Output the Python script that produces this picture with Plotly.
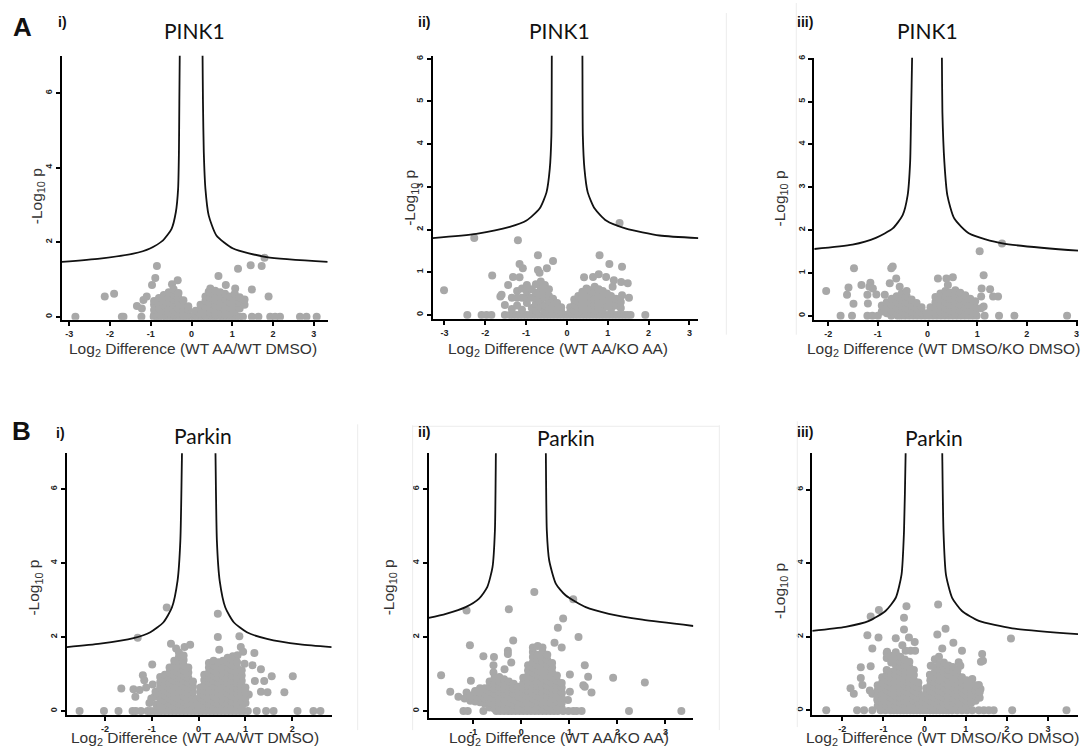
import plotly.graph_objects as go

W, H = 1091, 748
GRAY = "#a8a8a8"

# ---------------- threshold curves ----------------
AI_CURVE_X = [-3.18, -2.25, -1.43, -1.02, -0.70, -0.49, -0.385, -0.33, -0.31, -0.30, -0.29, -0.285, None,
              0.265, 0.27, 0.28, 0.30, 0.34, 0.42, 0.61, 1.02, 1.84, 3.34]
AI_CURVE_Y = [1.47, 1.56, 1.69, 1.83, 2.05, 2.36, 2.81, 3.43, 4.41, 5.75, 7.0, 7.5, None,
              7.5, 7.0, 5.75, 4.41, 3.43, 2.72, 2.18, 1.83, 1.60, 1.47]

AII_CURVE_X = [-3.29, -2.22, -1.40, -0.99, -0.67, -0.50, -0.42, -0.38, -0.37, -0.365, None,
               0.375, 0.38, 0.39, 0.43, 0.51, 0.68, 0.96, 1.45, 2.27, 3.22]
AII_CURVE_Y = [1.80, 1.90, 2.06, 2.21, 2.49, 2.87, 3.42, 4.20, 6.07, 6.6, None,
               6.6, 6.07, 4.20, 3.42, 2.87, 2.49, 2.21, 2.02, 1.86, 1.80]

AIII_CURVE_X = [-2.28, -1.51, -1.04, -0.70, -0.50, -0.40, -0.35, -0.33, -0.31, -0.305, None,
                0.285, 0.29, 0.30, 0.34, 0.40, 0.54, 0.84, 1.51, 3.04]
AIII_CURVE_Y = [1.56, 1.66, 1.82, 2.04, 2.35, 2.81, 3.58, 4.75, 6.02, 6.6, None,
                6.6, 6.02, 4.75, 3.58, 2.81, 2.27, 1.92, 1.69, 1.52]

BI_CURVE_X = [-2.81, -2.10, -1.39, -1.03, -0.75, -0.57, -0.45, -0.39, -0.355, -0.35, None,
              0.355, 0.36, 0.39, 0.45, 0.57, 0.75, 1.03, 1.46, 2.17, 2.84]
BI_CURVE_Y = [1.73, 1.82, 1.97, 2.13, 2.40, 2.80, 3.52, 4.60, 6.97, 7.5, None,
              7.5, 6.97, 4.60, 3.52, 2.80, 2.40, 2.13, 1.95, 1.80, 1.73]

BII_CURVE_X = [-1.93, -1.57, -1.16, -0.88, -0.71, -0.60, -0.55, -0.53, -0.525, None,
               0.505, 0.51, 0.53, 0.58, 0.72, 0.92, 1.34, 1.82, 2.52, 3.58]
BII_CURVE_Y = [2.52, 2.63, 2.81, 3.04, 3.35, 3.89, 4.88, 6.97, 7.5, None,
               7.5, 6.97, 4.88, 4.07, 3.44, 3.13, 2.81, 2.63, 2.47, 2.30]

BIII_CURVE_X = [-2.73, -1.92, -1.35, -0.95, -0.70, -0.56, -0.50, -0.46, -0.455, None,
                0.425, 0.43, 0.46, 0.52, 0.67, 0.91, 1.32, 2.13, 3.73]
BIII_CURVE_Y = [2.16, 2.27, 2.43, 2.70, 3.06, 3.69, 4.86, 6.99, 7.5, None,
                7.5, 6.99, 4.86, 3.69, 3.06, 2.70, 2.43, 2.23, 2.07]

# ---------------- proteins with p = 1 (row at -log10 p = 0) ----------------
AI_ZERO_X = [-2.85, -1.71, -1.67, -1.23, -0.93, -0.86, -0.79, -0.71, -0.63, -0.56, -0.48, -0.41, -0.33,
             -0.26, -0.18, -0.11, -0.03, 0.05, 0.12, 0.20, 0.27, 0.35, 0.42, 0.50, 0.57, 0.65, 0.73,
             0.80, 0.88, 0.95, 1.03, 1.10, 1.18, 1.26, 1.48, 1.64, 1.93, 2.05, 2.17, 2.66, 2.82, 3.07]
AII_ZERO_X = [-2.44, -2.09, -1.97, -1.85, -1.52, -1.40, -1.32, -1.24, -1.16, -1.08, -1.00, -0.92, -0.84,
              -0.76, -0.68, -0.60, -0.52, -0.44, -0.36, -0.28, -0.20, -0.12, -0.04, 0.04, 0.12, 0.20,
              0.28, 0.36, 0.44, 0.52, 0.60, 0.68, 0.76, 0.84, 0.92, 1.00, 1.08, 1.16, 1.24, 1.32,
              1.40, 1.48, 1.56, 1.92]
AIII_ZERO_X = [-1.75, -1.52, -1.21, -1.11, -1.00, -0.73, -0.60, -0.53, -0.45, -0.37, -0.29, -0.21,
               -0.13, -0.05, 0.03, 0.11, 0.19, 0.27, 0.35, 0.43, 0.51, 0.59, 0.67, 0.75, 0.83, 0.91,
               0.99, 1.15, 1.44, 1.75, 2.81]
BI_ZERO_X = [-2.54, -2.02, -1.71, -1.41, -1.34, -1.23, -1.09, -1.02, -0.94, -0.87, -0.80, -0.72, -0.64,
             -0.56, -0.48, -0.40, -0.32, -0.24, -0.16, -0.08, 0.00, 0.08, 0.16, 0.24, 0.32, 0.40, 0.48,
             0.56, 0.64, 0.72, 0.80, 0.88, 0.96, 1.05, 1.24, 1.44, 1.60, 2.11, 2.45, 2.60]
BII_ZERO_X = [-1.205, -1.115, -0.79, -0.52, -0.44, -0.36, -0.28, -0.20, -0.12, -0.04, 0.04, 0.12, 0.20,
              0.28, 0.36, 0.44, 0.52, 0.60, 0.68, 0.76, 0.87, 0.98, 1.08, 1.15, 1.255, 2.24, 3.33]
BIII_ZERO_X = [-2.39, -1.64, -1.47, -1.27, -1.07, -0.95, -0.83, -0.75, -0.67, -0.59, -0.51, -0.43,
               -0.35, -0.27, -0.19, -0.11, -0.03, 0.05, 0.13, 0.21, 0.29, 0.37, 0.45, 0.53, 0.59,
               0.67, 0.79, 0.91, 1.03, 1.16, 1.32, 1.44, 1.56, 1.68, 2.13, 3.45]

# ---------------- isolated proteins (x = log2 difference, y = -log10 p) ----------------
AI_PTS = [(-0.85, 1.36), (-0.89, 1.04), (-0.97, 0.85), (-0.34, 0.98), (-0.48, 0.87), (-2.13, 0.54),
          (-1.90, 0.62), (-1.34, 0.29), (-1.18, 0.45), (-1.10, 0.54), (-1.22, 0.22), (0.66, 1.09),
          (1.14, 1.29), (1.45, 1.38), (1.72, 1.36), (1.79, 1.58), (0.84, 0.85), (1.07, 0.76),
          (1.48, 0.73), (1.89, 0.54), (0.46, 0.76), (0.42, 0.67)]
AII_PTS = [(-3.01, 0.58), (-2.27, 1.80), (-1.20, 1.75), (-0.71, 1.40), (-0.34, 1.26), (-0.49, 1.09),
           (-1.16, 1.19), (-1.08, 1.09), (-0.71, 1.05), (-0.67, 0.99), (-1.83, 0.92), (-1.32, 0.89),
           (-1.16, 0.88), (-1.44, 0.70), (-1.63, 0.43), (-1.60, 0.47), (-1.52, 0.23), (0.80, 1.40),
           (1.04, 1.19), (1.35, 1.13), (0.42, 0.88), (0.64, 0.89), (0.78, 0.95), (0.96, 0.89),
           (1.15, 0.81), (1.33, 0.77), (1.49, 0.74), (1.12, 0.66), (1.35, 0.46), (1.52, 0.40),
           (1.29, 2.15)]
AIII_PTS = [(-2.04, 0.58), (-1.48, 1.11), (-1.59, 0.66), (-1.62, 0.49), (-1.49, 0.28), (-1.33, 0.72),
            (-1.15, 0.77), (-1.17, 0.68), (-1.10, 0.64), (-1.21, 0.49), (-1.20, 0.29), (-1.03, 0.50),
            (-0.70, 1.15), (-0.73, 1.11), (-0.63, 0.87), (-0.76, 0.76), (-0.56, 0.68), (-0.86, 0.49),
            (1.05, 1.51), (1.50, 1.69), (1.13, 0.95), (0.21, 0.87), (0.38, 0.87), (0.51, 0.90),
            (0.41, 0.72), (1.09, 0.64), (1.26, 0.62), (1.32, 0.45), (1.42, 0.45), (1.08, 0.45),
            (1.13, 0.22), (1.08, 0.18)]
BI_PTS = [(-0.68, 2.80), (0.41, 2.63), (-1.30, 1.98), (0.41, 2.00), (0.87, 2.02), (-0.59, 1.82),
          (-0.30, 1.73), (-0.18, 1.79), (-0.48, 1.69), (0.44, 1.66), (0.90, 1.73), (0.95, 1.60),
          (1.19, 1.57), (0.73, 1.48), (0.83, 1.51), (-0.99, 1.26), (-1.65, 0.61), (-1.39, 0.59),
          (-1.19, 0.97), (-1.16, 0.83), (-1.26, 0.57), (-1.12, 0.64), (-1.01, 0.34), (-0.94, 0.39),
          (-1.35, 0.39), (1.15, 1.24), (1.33, 1.13), (1.56, 0.94), (1.40, 0.81), (1.20, 0.81),
          (2.01, 0.94), (1.83, 0.51), (1.07, 0.45), (1.33, 0.52), (1.47, 0.51), (0.98, 1.28),
          (-0.92, 0.52), (-0.98, 0.72), (-1.05, 0.22), (-0.90, 0.18)]
BII_PTS = [(0.27, 3.22), (-1.14, 2.72), (-0.26, 2.75), (1.08, 3.02), (0.87, 2.50), (0.76, 2.25),
           (1.19, 2.00), (-0.17, 1.91), (-1.07, 1.78), (0.69, 1.85), (0.84, 1.72), (-0.28, 1.63),
           (-0.28, 1.54), (-0.79, 1.48), (-0.57, 1.46), (-0.21, 1.31), (-0.58, 1.24), (-0.35, 1.13),
           (1.32, 1.24), (-1.67, 0.97), (-1.05, 0.82), (-0.58, 1.04), (1.91, 0.90), (2.57, 0.77),
           (1.39, 0.93), (1.29, 0.70), (1.32, 0.66), (1.01, 0.99), (1.46, 0.50), (-1.48, 0.52),
           (-1.31, 0.39), (-1.14, 0.50), (-0.96, 0.54), (1.01, 0.52), (0.97, 0.30), (0.84, 0.48)]
BIII_PTS = [(-0.44, 2.83), (0.33, 2.88), (-1.11, 2.73), (-1.31, 2.55), (-0.50, 2.52), (-0.50, 2.20),
            (0.51, 2.22), (-1.39, 2.04), (-1.12, 1.98), (-0.70, 1.96), (-0.38, 1.98), (0.31, 2.06),
            (0.70, 1.84), (2.10, 1.95), (-0.24, 1.86), (-1.27, 1.68), (-0.54, 1.77), (-0.46, 1.62),
            (-0.34, 1.62), (-0.23, 1.62), (-0.91, 1.59), (-0.70, 1.48), (0.43, 1.68), (0.91, 1.62),
            (1.40, 1.53), (1.37, 1.32), (1.42, 1.35), (-1.55, 1.17), (-1.31, 1.20), (-1.55, 0.88),
            (-1.80, 0.60), (-1.72, 0.45), (-1.51, 0.69), (-1.33, 0.54), (-1.27, 0.45), (-1.15, 0.31),
            (0.15, 1.21), (0.13, 0.97), (0.83, 1.31), (0.87, 1.21), (0.35, 1.46), (0.25, 1.39),
            (1.32, 0.69), (1.36, 0.58), (1.16, 0.85)]

# ---------------- dense clouds: columns of (log2 difference, [-log10 p values]) ----------------
AI_CLOUD = [
    (-0.92, [0.05, 0.18, 0.32, 0.42]), (-0.80, [0.08, 0.22, 0.36, 0.50]),
    (-0.68, [0.04, 0.16, 0.30, 0.44, 0.58]), (-0.56, [0.10, 0.24, 0.38, 0.52, 0.66]),
    (-0.44, [0.06, 0.18, 0.32, 0.46, 0.60, 0.74]), (-0.32, [0.08, 0.22, 0.36, 0.50, 0.64]),
    (-0.20, [0.04, 0.16, 0.30, 0.44]), (-0.08, [0.06, 0.18, 0.28]),
    (0.10, [0.05, 0.16]), (0.22, [0.08, 0.20, 0.32]), (0.34, [0.04, 0.16, 0.28, 0.42, 0.54]),
    (0.46, [0.10, 0.22, 0.36, 0.50, 0.64]), (0.58, [0.06, 0.18, 0.30, 0.44, 0.58, 0.70]),
    (0.70, [0.12, 0.26, 0.40, 0.52, 0.66]), (0.82, [0.06, 0.20, 0.34, 0.48, 0.62]),
    (0.94, [0.10, 0.24, 0.38, 0.54]), (1.06, [0.14, 0.30, 0.46, 0.62]),
    (1.18, [0.22, 0.38, 0.52]), (1.30, [0.32, 0.46]),
]
AII_CLOUD = [
    (-1.35, [0.14, 0.40]), (-1.22, [0.22, 0.40, 0.56]), (-1.10, [0.12, 0.40, 0.62]),
    (-0.98, [0.28, 0.40, 0.54, 0.70]), (-0.86, [0.16, 0.40, 0.60]),
    (-0.76, [0.10, 0.26, 0.40, 0.52, 0.72]), (-0.64, [0.18, 0.34, 0.48, 0.64, 0.78]),
    (-0.54, [0.08, 0.22, 0.40, 0.56, 0.70]), (-0.44, [0.14, 0.30, 0.44, 0.60]),
    (-0.34, [0.08, 0.22, 0.38]), (-0.24, [0.12, 0.28]), (-0.14, [0.08, 0.18]),
    (0.08, [0.06, 0.18]), (0.18, [0.10, 0.24, 0.36]), (0.28, [0.06, 0.18, 0.30, 0.44]),
    (0.38, [0.12, 0.26, 0.40, 0.54]), (0.48, [0.08, 0.22, 0.36, 0.50, 0.62]),
    (0.58, [0.14, 0.28, 0.42, 0.58]), (0.68, [0.10, 0.24, 0.38, 0.54, 0.66]),
    (0.78, [0.16, 0.30, 0.46, 0.60]), (0.88, [0.12, 0.26, 0.42, 0.56]),
    (0.98, [0.20, 0.36, 0.50]), (1.08, [0.14, 0.30, 0.44]), (1.20, [0.22, 0.38]),
    (1.32, [0.16, 0.30]),
]
AIII_CLOUD = [
    (-0.92, [0.10, 0.24]), (-0.82, [0.06, 0.18, 0.32]), (-0.72, [0.12, 0.26, 0.40]),
    (-0.62, [0.06, 0.18, 0.32, 0.46]), (-0.52, [0.10, 0.24, 0.38, 0.52]),
    (-0.42, [0.06, 0.18, 0.32, 0.46, 0.58]), (-0.32, [0.10, 0.24, 0.38]),
    (-0.22, [0.06, 0.18, 0.30]), (-0.12, [0.08, 0.20]), (-0.02, [0.06]),
    (0.06, [0.08, 0.20]), (0.16, [0.06, 0.18, 0.32, 0.44]), (0.26, [0.10, 0.24, 0.38, 0.52]),
    (0.36, [0.06, 0.18, 0.32, 0.46, 0.58]), (0.46, [0.12, 0.26, 0.40, 0.54]),
    (0.56, [0.06, 0.18, 0.32, 0.46, 0.60]), (0.66, [0.12, 0.26, 0.40, 0.54]),
    (0.76, [0.06, 0.20, 0.34, 0.48]), (0.86, [0.12, 0.26, 0.40]), (0.96, [0.08, 0.20, 0.34]),
]
BI_CLOUD = [
    (-0.82, [0.08, 0.22, 0.36, 0.50, 0.64, 0.78, 0.92]),
    (-0.72, [0.14, 0.28, 0.42, 0.56, 0.70, 0.84, 0.98]),
    (-0.62, [0.06, 0.20, 0.34, 0.48, 0.62, 0.76, 0.90, 1.04, 1.18]),
    (-0.52, [0.12, 0.26, 0.40, 0.54, 0.68, 0.82, 0.96, 1.10, 1.24, 1.36]),
    (-0.42, [0.06, 0.20, 0.34, 0.48, 0.62, 0.76, 0.90, 1.04, 1.18, 1.32, 1.46, 1.58]),
    (-0.32, [0.12, 0.26, 0.40, 0.54, 0.68, 0.82, 0.96, 1.10, 1.24, 1.38, 1.50]),
    (-0.22, [0.06, 0.20, 0.34, 0.48, 0.62, 0.76, 0.90, 1.04, 1.18]),
    (-0.12, [0.10, 0.24, 0.38, 0.52, 0.66, 0.80]),
    (-0.04, [0.06, 0.18, 0.32]),
    (0.04, [0.08, 0.22, 0.36, 0.50, 0.64]),
    (0.12, [0.14, 0.28, 0.42, 0.56, 0.70, 0.84, 0.98]),
    (0.22, [0.06, 0.20, 0.34, 0.48, 0.62, 0.76, 0.90, 1.04, 1.18, 1.30]),
    (0.32, [0.12, 0.26, 0.40, 0.54, 0.68, 0.82, 0.96, 1.10, 1.24, 1.36]),
    (0.42, [0.06, 0.20, 0.34, 0.48, 0.62, 0.76, 0.90, 1.04, 1.18, 1.32]),
    (0.52, [0.12, 0.26, 0.40, 0.54, 0.68, 0.82, 0.96, 1.10, 1.24, 1.36]),
    (0.62, [0.06, 0.20, 0.34, 0.48, 0.62, 0.76, 0.90, 1.04, 1.18, 1.32, 1.44]),
    (0.72, [0.12, 0.26, 0.40, 0.54, 0.68, 0.82, 0.96, 1.10, 1.24, 1.38]),
    (0.82, [0.06, 0.20, 0.34, 0.48, 0.62, 0.76, 0.90, 1.04, 1.18, 1.32]),
    (0.92, [0.12, 0.26, 0.40, 0.54, 0.68, 0.82, 0.96, 1.10]),
    (1.00, [0.22, 0.36, 0.50, 0.64]),
]
BII_CLOUD = [
    (-1.18, [0.34]), (-1.06, [0.28, 0.42]), (-0.96, [0.26, 0.40, 0.52]),
    (-0.86, [0.24, 0.36, 0.50, 0.62]), (-0.76, [0.20, 0.34, 0.48, 0.62]),
    (-0.66, [0.10, 0.24, 0.38, 0.52, 0.66, 0.80]),
    (-0.56, [0.06, 0.18, 0.32, 0.46, 0.60, 0.74, 0.88]),
    (-0.46, [0.10, 0.24, 0.38, 0.52, 0.66, 0.80, 0.92]),
    (-0.36, [0.06, 0.18, 0.32, 0.46, 0.60, 0.74, 0.86]),
    (-0.26, [0.10, 0.24, 0.38, 0.52, 0.66, 0.80]),
    (-0.16, [0.06, 0.18, 0.32, 0.46, 0.60, 0.74]),
    (-0.06, [0.10, 0.24, 0.38, 0.52, 0.66]),
    (0.04, [0.06, 0.20, 0.34, 0.48, 0.62, 0.76, 0.90]),
    (0.14, [0.12, 0.26, 0.40, 0.54, 0.68, 0.82, 0.96, 1.10, 1.24]),
    (0.24, [0.06, 0.20, 0.34, 0.48, 0.62, 0.76, 0.90, 1.04, 1.18, 1.32, 1.46, 1.60, 1.72]),
    (0.34, [0.12, 0.26, 0.40, 0.54, 0.68, 0.82, 0.96, 1.10, 1.24, 1.38, 1.52, 1.76]),
    (0.44, [0.06, 0.20, 0.34, 0.48, 0.62, 0.76, 0.90, 1.04, 1.18, 1.32, 1.46, 1.60, 1.72]),
    (0.54, [0.12, 0.26, 0.40, 0.54, 0.68, 0.82, 0.96, 1.10, 1.24, 1.38, 1.52]),
    (0.64, [0.06, 0.20, 0.34, 0.48, 0.62, 0.76, 0.90, 1.04, 1.18, 1.30]),
    (0.74, [0.12, 0.26, 0.40, 0.54, 0.68, 0.82, 0.96]),
    (0.84, [0.08, 0.22, 0.36, 0.50, 0.64, 0.76]),
]
BIII_CLOUD = [
    (-1.14, [0.12, 0.26, 0.40, 0.54, 0.68]),
    (-1.03, [0.06, 0.20, 0.34, 0.48, 0.62, 0.76, 0.90]),
    (-0.92, [0.12, 0.26, 0.40, 0.54, 0.68, 0.82, 0.96, 1.10, 1.42, 1.56]),
    (-0.81, [0.06, 0.20, 0.34, 0.48, 0.62, 0.76, 0.90, 1.04, 1.30, 1.48]),
    (-0.70, [0.12, 0.26, 0.40, 0.54, 0.68, 0.82, 0.96, 1.10, 1.24, 1.38, 1.58]),
    (-0.59, [0.06, 0.20, 0.34, 0.48, 0.62, 0.76, 0.90, 1.04, 1.18, 1.32, 1.46]),
    (-0.48, [0.12, 0.26, 0.40, 0.54, 0.68, 0.82, 0.96, 1.10, 1.24, 1.38]),
    (-0.37, [0.06, 0.20, 0.34, 0.48, 0.62, 0.76, 0.90, 1.04, 1.18, 1.32]),
    (-0.26, [0.12, 0.26, 0.40, 0.54, 0.68, 0.82, 0.96, 1.10]),
    (-0.15, [0.06, 0.20, 0.34, 0.48, 0.62, 0.76]),
    (-0.05, [0.10, 0.24, 0.38]),
    (0.04, [0.06, 0.20, 0.34, 0.48, 0.60]),
    (0.14, [0.12, 0.26, 0.40, 0.54, 0.68, 0.82, 0.96]),
    (0.25, [0.06, 0.20, 0.34, 0.48, 0.62, 0.76, 0.90, 1.04, 1.18]),
    (0.36, [0.12, 0.26, 0.40, 0.54, 0.68, 0.82, 0.96, 1.10, 1.26]),
    (0.47, [0.06, 0.20, 0.34, 0.48, 0.62, 0.76, 0.90, 1.04, 1.18, 1.30]),
    (0.58, [0.12, 0.26, 0.40, 0.54, 0.68, 0.82, 0.96, 1.10, 1.22]),
    (0.69, [0.06, 0.20, 0.34, 0.48, 0.62, 0.76, 0.90, 1.04, 1.18]),
    (0.80, [0.12, 0.26, 0.40, 0.54, 0.68, 0.82, 0.96, 1.10]),
    (0.91, [0.06, 0.20, 0.34, 0.48, 0.62, 0.76, 0.90]),
    (1.02, [0.12, 0.26, 0.40, 0.54, 0.68, 0.82]),
    (1.13, [0.20, 0.34, 0.48, 0.62, 0.76]),
    (1.24, [0.26, 0.40, 0.54, 0.68]),
    (1.34, [0.34, 0.50]),
]

# ---------------- text ----------------
X_TITLES = ["Log<sub>2</sub> Difference (WT AA/WT DMSO)", "Log<sub>2</sub> Difference (WT AA/KO AA)",
            "Log<sub>2</sub> Difference (WT DMSO/KO DMSO)"]
Y_TITLE = "-Log<sub>10</sub> p"
ROMAN = ["i)", "ii)", "iii)"]


def collect(zero_x, pts, cloud):
    xs = list(zero_x) + [p[0] for p in pts]
    ys = [0.0] * len(zero_x) + [p[1] for p in pts]
    for cx, cys in cloud:
        xs += [cx] * len(cys)
        ys += list(cys)
    return xs, ys


# panel layout (pixel boxes of the plotting area, axis ranges, ticks)
panels = [
    dict(data=(AI_ZERO_X, AI_PTS, AI_CLOUD), curve=(AI_CURVE_X, AI_CURVE_Y),
         box=(62, 328, 53, 318), xr=[-3.18, 3.34], yr=[-0.08, 7.0],
         xt=[-3, -2, -1, 0, 1, 2, 3], yt=[0, 2, 4, 6]),
    dict(data=(AII_ZERO_X, AII_PTS, AII_CLOUD), curve=(AII_CURVE_X, AII_CURVE_Y),
         box=(433, 699, 53, 317), xr=[-3.29, 3.22], yr=[-0.09, 6.07],
         xt=[-3, -2, -1, 0, 1, 2, 3], yt=[0, 1, 2, 3, 4, 5, 6]),
    dict(data=(AIII_ZERO_X, AIII_PTS, AIII_CLOUD), curve=(AIII_CURVE_X, AIII_CURVE_Y),
         box=(815, 1079, 55, 318), xr=[-2.28, 3.03], yr=[-0.09, 6.02],
         xt=[-2, -1, 0, 1, 2, 3], yt=[0, 1, 2, 3, 4, 5, 6]),
    dict(data=(BI_ZERO_X, BI_PTS, BI_CLOUD), curve=(BI_CURVE_X, BI_CURVE_Y),
         box=(67, 332, 452, 715), xr=[-2.81, 2.84], yr=[-0.11, 6.97],
         xt=[-2, -1, 0, 1, 2], yt=[0, 2, 4, 6]),
    dict(data=(BII_ZERO_X, BII_PTS, BII_CLOUD), curve=(BII_CURVE_X, BII_CURVE_Y),
         box=(429, 694, 452, 718), xr=[-1.93, 3.58], yr=[-0.19, 6.97],
         xt=[-1, 0, 1, 2, 3], yt=[0, 2, 4, 6]),
    dict(data=(BIII_ZERO_X, BIII_PTS, BIII_CLOUD), curve=(BIII_CURVE_X, BIII_CURVE_Y),
         box=(813, 1079, 452, 715), xr=[-2.73, 3.73], yr=[-0.13, 6.99],
         xt=[-2, -1, 0, 1, 2, 3], yt=[0, 2, 4, 6]),
]

fig = go.Figure()
layout = {}
tickfont = dict(family="Liberation Sans", size=9, color="#222222", weight="bold")

for i, p in enumerate(panels):
    n = "" if i == 0 else str(i + 1)
    xs, ys = collect(*p["data"])
    fig.add_trace(go.Scatter(x=xs, y=ys, mode="markers", xaxis="x" + n, yaxis="y" + n,
                             marker=dict(color=GRAY, size=8, line=dict(width=0)),
                             showlegend=False, hoverinfo="x+y"))
    cx, cy = p["curve"]
    fig.add_trace(go.Scatter(x=cx, y=cy, mode="lines", xaxis="x" + n, yaxis="y" + n,
                             line=dict(color="#111111", width=1.8, shape="spline", smoothing=0.6),
                             showlegend=False, hoverinfo="skip"))
    x0, x1, y0, y1 = p["box"]
    layout["xaxis" + n] = dict(domain=[x0 / W, x1 / W], range=p["xr"], anchor="y" + n,
                               showline=True, linecolor="black", linewidth=2,
                               ticks="outside", ticklen=4, tickwidth=1.5, tickcolor="black",
                               tickvals=p["xt"], ticktext=[str(v) for v in p["xt"]],
                               tickfont=tickfont, showgrid=False, zeroline=False, fixedrange=True)
    layout["yaxis" + n] = dict(domain=[1 - y1 / H, 1 - y0 / H], range=p["yr"], anchor="x" + n,
                               showline=True, linecolor="black", linewidth=2,
                               ticks="outside", ticklen=4, tickwidth=1.5, tickcolor="black",
                               tickvals=p["yt"], ticktext=[str(v) for v in p["yt"]],
                               tickangle=-90, tickfont=tickfont,
                               showgrid=False, zeroline=False, fixedrange=True)

# text annotations (positions in pixels converted to paper coords)
def ann(text, px, py, size, family="Liberation Sans", color="#222222", angle=0, bold=False):
    return dict(text=("<b>%s</b>" % text) if bold else text, x=px / W, y=1 - py / H,
                xref="paper", yref="paper", showarrow=False, xanchor="center", yanchor="middle",
                textangle=angle, font=dict(family=family, size=size, color=color))

annotations = []
# x-axis titles
for (px, py), t in zip([(193, 348), (559, 348), (944, 348), (195, 738), (560, 738), (943, 738)],
                       X_TITLES * 2):
    annotations.append(ann(t, px, py, 15.5, color="#333333"))
# y-axis titles
for px, py in [(37, 194), (411, 196), (781, 196), (35, 587), (390, 587), (781, 590)]:
    annotations.append(ann(Y_TITLE, px, py, 15.5, color="#333333", angle=-90))
# panel titles
for (px, py), t in zip([(195, 28), (560, 28), (928, 28), (203, 434), (567, 436), (935, 436)],
                       ["PINK1"] * 3 + ["Parkin"] * 3):
    annotations.append(ann(t, px, py, 21, family="Lato", color="#111111"))
# roman numerals
for (px, py), t in zip([(63, 19), (424, 19), (806, 19), (61, 432), (424, 431), (806, 431)], ROMAN * 2):
    annotations.append(ann(t, px, py, 14, color="#111111", bold=True))
# panel letters
annotations.append(ann("A", 23, 24, 26, color="#111111", bold=True))
annotations.append(ann("B", 22, 430, 26, color="#111111", bold=True))

# faint borders of the pasted sub-images (decoration seen in the reference)
def vline(px, py0, py1):
    return dict(type="line", xref="paper", yref="paper", x0=px / W, x1=px / W,
                y0=1 - py0 / H, y1=1 - py1 / H, line=dict(color="#ececec", width=1))

def hline(py, px0, px1):
    return dict(type="line", xref="paper", yref="paper", x0=px0 / W, x1=px1 / W,
                y0=1 - py / H, y1=1 - py / H, line=dict(color="#ececec", width=1))

shapes = [vline(727, 10, 333), vline(797, 0, 333), vline(358, 423, 730),
          vline(413, 424, 730), vline(720, 424, 730), hline(425, 413, 720),
          vline(798, 420, 727)]

fig.update_layout(width=W, height=H, margin=dict(l=0, r=0, t=0, b=0),
                  paper_bgcolor="white", plot_bgcolor="white",
                  annotations=annotations, shapes=shapes, showlegend=False, **layout)

fig.write_html("out.html", config={"displayModeBar": False},
               post_script="document.body.style.margin='0';document.body.style.overflow='hidden';")
